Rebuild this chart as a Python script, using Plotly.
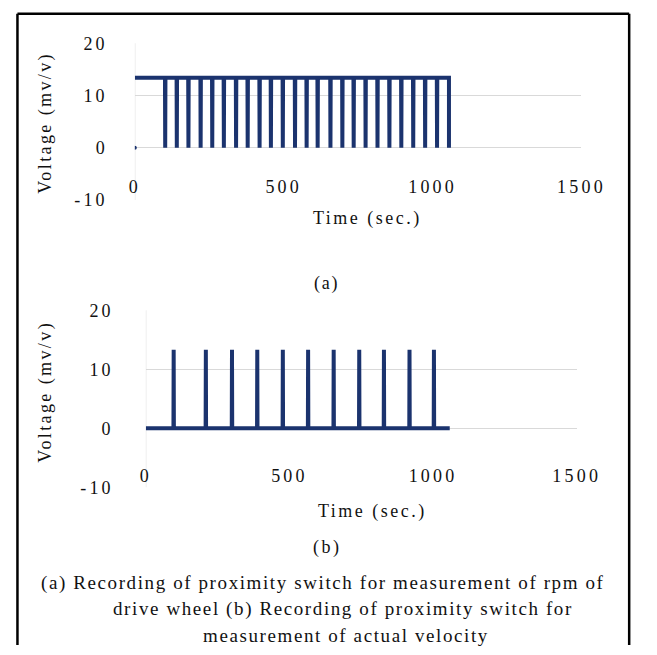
import plotly.graph_objects as go

# ---------------- data ----------------
# (a) rpm of drive wheel: signal sits high and drops to 0 at these times (s)
a_drop_times = [102, 141, 180, 221, 260, 299, 340, 379, 419, 457, 497, 538, 577,
                614, 657, 697, 735, 775, 815, 855, 895, 935, 975, 1015, 1055]
a_high = 13.4
a_low = 0.0
a_start_dot = (0, 0)

# (b) actual velocity: signal sits at 0 and spikes up at these times (s)
b_spike_times = [97, 209, 300, 388, 477, 565, 654, 743, 829, 918, 1003]
b_high = 13.3
b_low = 0.0
b_end_time = 1058

x_tick_vals = [0, 500, 1000, 1500]
x_tick_labels = ["0", "500", "1000", "1500"]
y_tick_vals = [-10, 0, 10, 20]
y_tick_labels = ["-10", "0", "10", "20"]

caption_lines = [
    "(a) Recording of proximity switch for measurement of rpm of",
    "drive wheel (b) Recording of proximity switch for",
    "measurement of actual velocity",
]

# ---------------- build series ----------------
HW = 0.8  # half-width of a pulse (s)
ax_, ay_ = [0], [a_high]
for i, t in enumerate(a_drop_times):
    if i < len(a_drop_times) - 1:
        ax_ += [t - HW, t, t + HW]
        ay_ += [a_high, a_low, a_high]
    else:
        ax_ += [t, t]
        ay_ += [a_high, a_low]

bx_, by_ = [0], [b_low]
for t in b_spike_times:
    bx_ += [t - HW, t, t + HW]
    by_ += [b_low, b_high, b_low]
bx_ += [b_end_time]
by_ += [b_low]

W, H = 657, 655
def px(x):
    return x / W
def py(y):
    return 1 - y / H

LINE = "#1b336e"
FONT = "Liberation Serif"
GRID = "#d9d9d9"
TXT = "#111"

def spaced(s, ls):
    return f"<span style='letter-spacing:{ls}px'>{s}</span>"

fig = go.Figure()
fig.add_trace(go.Scatter(x=ax_, y=ay_, mode="lines", line=dict(color=LINE, width=4),
                         xaxis="x", yaxis="y", hoverinfo="skip"))
fig.add_trace(go.Scatter(x=[a_start_dot[0]], y=[a_start_dot[1]], mode="markers",
                         marker=dict(color=LINE, size=4), xaxis="x", yaxis="y",
                         hoverinfo="skip"))
fig.add_trace(go.Scatter(x=bx_, y=by_, mode="lines", line=dict(color=LINE, width=4),
                         xaxis="x2", yaxis="y2", hoverinfo="skip"))

tickfont = dict(family=FONT, size=18, color=TXT)
TLS = 3.2

def xaxis(domain, standoff, anchor):
    return dict(domain=domain, range=[0, 1500], tickvals=x_tick_vals,
                ticktext=[spaced(t, TLS) for t in x_tick_labels],
                showgrid=False, zeroline=False, showline=False, ticks="",
                tickfont=tickfont, ticklabelstandoff=standoff, anchor=anchor,
                fixedrange=True)

def yaxis(domain, anchor, standoff):
    return dict(domain=domain, range=[-10.05, 20.05], tickvals=y_tick_vals,
                ticktext=[spaced(t, TLS) for t in y_tick_labels],
                showgrid=True, gridcolor=GRID, gridwidth=1, zeroline=False,
                showline=False, ticks="", tickfont=tickfont,
                ticklabelstandoff=standoff, anchor=anchor, fixedrange=True)

fig.update_layout(
    width=W, height=H, margin=dict(l=0, r=0, t=0, b=0),
    paper_bgcolor="white", plot_bgcolor="white", showlegend=False,
    xaxis=xaxis([px(135), px(603)], -26, "y"),
    yaxis=yaxis([py(197), py(35)], "x", 26),
    xaxis2=xaxis([px(146.5), px(598)], -25, "y2"),
    yaxis2=yaxis([py(493), py(310)], "x2", 31),
)

# y axis lines at x = 0 (light grey)
for xr, yr in (("x", "y"), ("x2", "y2")):
    fig.add_shape(type="line", xref=xr, yref=yr, x0=0, x1=0, y0=-10, y1=20,
                  line=dict(color=GRID, width=1), layer="below")

def ann(text, x, y, size=18, ls=2.0, angle=0):
    fig.add_annotation(text=spaced(text, ls), x=px(x), y=py(y), xref="paper",
                       yref="paper", showarrow=False, textangle=angle,
                       xanchor="center", yanchor="middle",
                       font=dict(family=FONT, size=size, color=TXT))

ann("Voltage (mv/v)", 41, 117, 18, 2.4, -90)
ann("Time (sec.)", 379, 216, 18, 2.5)
ann("(a)", 336, 283, 18, 1.8)
ann("Voltage (mv/v)", 41, 394, 18, 2.4, -90)
ann("Time (sec.)", 384, 518, 18, 2.5)
ann("(b)", 337, 555, 18, 2.5)
ann(caption_lines[0], 332, 591, 19, 1.6)
ann(caption_lines[1], 353, 618, 19, 1.6)
ann(caption_lines[2], 356, 645, 19, 1.6)

# outer frame (left, top, right sides; bottom edge lies outside the picture)
for x0, y0, x1, y1 in ((12, 655, 12, 5), (12, 5, 653, 5), (653, 5, 653, 655)):
    fig.add_shape(type="line", xref="paper", yref="paper", x0=px(x0), y0=py(y0),
                  x1=px(x1), y1=py(y1), line=dict(color="black", width=2.5))

fig.write_html("out.html", config={"displayModeBar": False})
